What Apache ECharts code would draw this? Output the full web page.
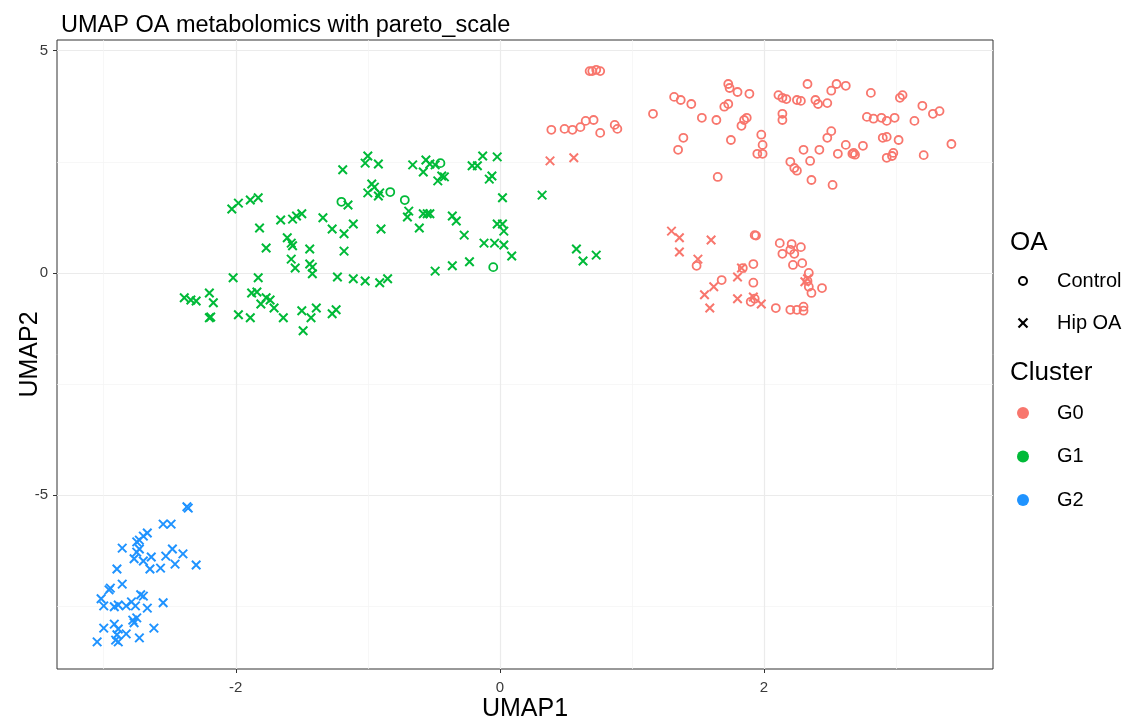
<!DOCTYPE html>
<html>
<head>
<meta charset="utf-8">
<title>UMAP OA metabolomics</title>
<script src="https://cdn.jsdelivr.net/npm/echarts@6/dist/echarts.min.js"></script>
<style>
html, body { margin: 0; padding: 0; background: #fff; }
#chart { width: 1124px; height: 720px; }
</style>
</head>
<body>
<div id="chart"></div>
<script>
// points, [UMAP1, UMAP2]
var g0Control = [
    [0.68, 4.54], [0.70, 4.54], [0.73, 4.57], [0.76, 4.54],
    [0.39, 3.22], [0.49, 3.24], [0.55, 3.22], [0.61, 3.28], [0.65, 3.42], [0.71, 3.44],
    [0.76, 3.15], [0.87, 3.33], [0.89, 3.24], [1.16, 3.58], [1.32, 3.96], [1.37, 3.89],
    [1.45, 3.80], [1.53, 3.49], [1.39, 3.04], [1.35, 2.77], [1.64, 3.44], [1.65, 2.16],
    [1.73, 4.25], [1.74, 4.16], [1.80, 4.07], [1.89, 4.03], [1.70, 3.74], [1.73, 3.80],
    [1.83, 3.31], [1.85, 3.44], [1.87, 3.49], [1.75, 2.99], [1.95, 2.68], [1.98, 3.11],
    [1.99, 2.88], [1.99, 2.68], [2.33, 4.25], [2.11, 4.00], [2.14, 3.94], [2.17, 3.91],
    [2.25, 3.89], [2.28, 3.87], [2.39, 3.89], [2.41, 3.80], [2.48, 3.82], [2.51, 4.10],
    [2.55, 4.25], [2.62, 4.21], [2.14, 3.58], [2.14, 3.44], [2.51, 3.19], [2.48, 3.04],
    [2.30, 2.77], [2.42, 2.77], [2.20, 2.50], [2.23, 2.36], [2.25, 2.30], [2.35, 2.52],
    [2.36, 2.09], [2.52, 1.98], [2.56, 2.68], [2.62, 2.88], [2.67, 2.68], [2.68, 2.70],
    [2.69, 2.66], [2.75, 2.86], [2.81, 4.05], [2.78, 3.51], [2.83, 3.47], [2.89, 3.49],
    [2.93, 3.42], [2.99, 3.49], [3.03, 3.94], [3.05, 4.00], [2.90, 3.04], [2.93, 3.06],
    [3.02, 2.99], [2.93, 2.59], [2.97, 2.63], [2.98, 2.70], [3.14, 3.42], [3.20, 3.76],
    [3.28, 3.58], [3.33, 3.64], [3.21, 2.65], [3.42, 2.90],
    [1.93, 0.85], [1.94, 0.84], [1.49, 0.16], [1.84, 0.11], [1.92, 0.20], [1.68, -0.16],
    [1.92, -0.22], [1.90, -0.65], [1.93, -0.58], [2.09, -0.79], [2.20, -0.83], [2.25, -0.83],
    [2.30, -0.76], [2.30, -0.85], [2.12, 0.67], [2.21, 0.65], [2.28, 0.58], [2.14, 0.43],
    [2.20, 0.52], [2.23, 0.43], [2.22, 0.18], [2.29, 0.22], [2.34, 0.00], [2.33, -0.18],
    [2.34, -0.31], [2.36, -0.45], [2.44, -0.34]
];
var g0HipOA = [
    [0.38, 2.52], [0.56, 2.59], [1.30, 0.94], [1.36, 0.79], [1.36, 0.47], [1.60, 0.74],
    [1.50, 0.31], [1.80, -0.09], [1.83, 0.11], [1.62, -0.31], [1.55, -0.49], [1.59, -0.79],
    [1.80, -0.58], [1.92, -0.54], [1.98, -0.70], [2.31, -0.20], [2.33, -0.13]
];
var g1Control = [
    [-0.45, 2.47], [-0.83, 1.82], [-1.20, 1.60], [-0.72, 1.64], [-0.05, 0.13]
];
var g1HipOA = [
    [0.32, 1.75], [-1.00, 2.63], [-1.02, 2.47], [-0.92, 2.45], [-1.19, 2.32], [-0.97, 2.00],
    [-1.00, 1.80], [-0.95, 1.93], [-0.91, 1.80], [-0.92, 1.73], [-1.15, 1.53], [-2.03, 1.44],
    [-1.98, 1.57], [-1.89, 1.64], [-1.83, 1.69], [-1.66, 1.19], [-1.57, 1.21], [-1.54, 1.28],
    [-1.50, 1.33], [-1.34, 1.24], [-1.27, 0.99], [-1.18, 0.88], [-1.11, 1.10], [-0.90, 0.99],
    [-1.82, 1.01], [-1.77, 0.56], [-1.61, 0.79], [-1.58, 0.67], [-1.57, 0.61], [-1.44, 0.54],
    [-1.18, 0.49], [-1.58, 0.31], [-1.55, 0.11], [-1.44, 0.20], [-1.42, 0.13], [-1.42, -0.02],
    [-2.02, -0.11], [-1.83, -0.11], [-1.23, -0.09], [-1.11, -0.13], [-1.02, -0.18], [-0.91, -0.22],
    [-0.85, -0.13], [-2.39, -0.56], [-2.34, -0.61], [-2.30, -0.63], [-2.20, -0.45], [-2.17, -0.67],
    [-2.20, -1.01], [-2.19, -0.99], [-1.98, -0.94], [-1.89, -1.01], [-1.88, -0.45], [-1.84, -0.43],
    [-1.81, -0.70], [-1.77, -0.56], [-1.74, -0.61], [-1.71, -0.79], [-1.64, -1.01], [-1.50, -0.85],
    [-1.43, -1.01], [-1.39, -0.79], [-1.49, -1.30], [-1.27, -0.92], [-1.24, -0.83],
    [-0.66, 2.43], [-0.56, 2.54], [-0.58, 2.27], [-0.53, 2.45], [-0.49, 2.43], [-0.47, 2.07],
    [-0.44, 2.18], [-0.42, 2.16], [-0.21, 2.41], [-0.17, 2.41], [-0.13, 2.63], [-0.02, 2.61],
    [-0.06, 2.18], [-0.08, 2.11], [-0.69, 1.39], [-0.70, 1.26], [-0.58, 1.33], [-0.55, 1.33],
    [-0.53, 1.33], [-0.61, 1.01], [-0.36, 1.28], [-0.33, 1.17], [-0.27, 0.85], [-0.12, 0.67],
    [-0.04, 0.67], [-0.02, 1.10], [0.02, 1.10], [0.03, 0.94], [0.03, 0.63], [0.09, 0.38],
    [0.02, 1.69], [-0.23, 0.25], [-0.36, 0.16], [-0.49, 0.04], [0.58, 0.54], [0.63, 0.27],
    [0.73, 0.40]
];
var g2HipOA = [
    [-2.37, -5.26], [-2.36, -5.29], [-2.55, -5.65], [-2.49, -5.65], [-2.67, -5.85], [-2.70, -5.92],
    [-2.75, -6.05], [-2.73, -6.01], [-2.86, -6.19], [-2.75, -6.28], [-2.73, -6.21], [-2.77, -6.43],
    [-2.70, -6.48], [-2.64, -6.39], [-2.65, -6.66], [-2.57, -6.64], [-2.53, -6.37], [-2.48, -6.21],
    [-2.46, -6.55], [-2.40, -6.32], [-2.30, -6.57], [-2.90, -6.66], [-2.86, -7.00], [-2.95, -7.09],
    [-2.96, -7.13], [-3.02, -7.33], [-3.00, -7.49], [-2.92, -7.51], [-2.89, -7.47], [-2.83, -7.49],
    [-2.79, -7.40], [-2.76, -7.49], [-2.72, -7.24], [-2.70, -7.27], [-2.67, -7.54], [-2.55, -7.42],
    [-2.78, -7.81], [-2.75, -7.76], [-2.77, -7.87], [-3.00, -7.99], [-2.92, -7.90], [-2.89, -8.01],
    [-2.90, -8.14], [-2.83, -8.12], [-2.62, -7.99], [-2.73, -8.21], [-3.05, -8.30], [-2.91, -8.26],
    [-2.89, -8.30]
];

var xTicks = [-2, 0, 2];
var xMinor = [-3, -1, 1, 3];
var yTicks = [-5, 0, 5];
var yMinor = [-7.5, -2.5, 2.5];
var xRange = [-3.354, 3.735];
var yRange = [-8.91, 5.24];

var oaLevels = ['Control', 'Hip OA'];
var clusters = ['G0', 'G1', 'G2'];
var clusterColors = { G0: '#F8766D', G1: '#00BA38', G2: '#1F93FF' };
var font = '"Liberation Sans", Arial, Helvetica, sans-serif';

var crossPath = 'path://M0,0L10,10M10,0L0,10';

function pointSeries(name, data, color, shape) {
    var isCross = shape === 'cross';
    return {
        name: name,
        type: 'scatter',
        xAxisIndex: 1,
        yAxisIndex: 1,
        data: data,
        symbol: isCross ? crossPath : 'circle',
        symbolSize: isCross ? 8.5 : 8,
        itemStyle: {
            color: 'rgba(0,0,0,0)',
            borderColor: color,
            borderWidth: isCross ? 2 : 1.8,
            opacity: 1
        },
        emphasis: { disabled: true }
    };
}

function axisPair(dim, range, ticks, minor, title) {
    var isX = dim === 'x';
    // minor grid lines only
    var minorAxis = {
        type: 'value',
        min: range[0],
        max: range[1],
        axisLine: { show: false, onZero: false },
        axisTick: { show: false, customValues: minor },
        axisLabel: { show: false, customValues: minor },
        splitLine: { show: true, lineStyle: { color: '#F3F3F3', width: 0.7 } }
    };
    var main = {
        type: 'value',
        min: range[0],
        max: range[1],
        position: isX ? 'bottom' : 'left',
        name: title,
        nameLocation: 'middle',
        nameGap: isX ? 28 : 14,
        nameMoveOverlap: false,
        nameTextStyle: { fontSize: 25, color: '#000', fontFamily: font },
        axisLine: { show: false, onZero: false },
        axisTick: { show: true, length: 4, customValues: ticks, lineStyle: { color: '#333', width: 1 } },
        axisLabel: { customValues: ticks, fontSize: 15, color: '#3A3A3A', fontFamily: font, margin: isX ? 11 : 9 },
        splitLine: { show: true, lineStyle: { color: '#EBEBEB', width: 1.2 } }
    };
    return [minorAxis, main];
}

// legend drawn by hand so it sits where ggplot put it
function legendGraphics() {
    var items = [];
    var iconX = 1023, textX = 1057;
    var titleStyle = { fontSize: 26, fill: '#000', fontFamily: font, verticalAlign: 'middle' };
    var labelStyle = { fontSize: 20, fill: '#000', fontFamily: font, verticalAlign: 'middle' };
    items.push({ type: 'text', x: 1010, y: 243, style: Object.assign({ text: 'OA' }, titleStyle) });
    var oaY = [281, 323];
    items.push({ type: 'circle', shape: { cx: iconX, cy: oaY[0], r: 4 },
                 style: { fill: 'none', stroke: '#000', lineWidth: 2 } });
    items.push({ type: 'polyline', shape: { points: [[iconX - 4.5, oaY[1] - 4.5], [iconX + 4.5, oaY[1] + 4.5]] },
                 style: { stroke: '#000', lineWidth: 2.2 } });
    items.push({ type: 'polyline', shape: { points: [[iconX + 4.5, oaY[1] - 4.5], [iconX - 4.5, oaY[1] + 4.5]] },
                 style: { stroke: '#000', lineWidth: 2.2 } });
    oaLevels.forEach(function (name, i) {
        items.push({ type: 'text', x: textX, y: oaY[i], style: Object.assign({ text: name }, labelStyle) });
    });
    items.push({ type: 'text', x: 1010, y: 373, style: Object.assign({ text: 'Cluster' }, titleStyle) });
    clusters.forEach(function (name, i) {
        var y = 413 + i * 43.5;
        items.push({ type: 'circle', shape: { cx: iconX, cy: y, r: 6 },
                     style: { fill: clusterColors[name] } });
        items.push({ type: 'text', x: textX, y: y, style: Object.assign({ text: name }, labelStyle) });
    });
    return items;
}

var chart = echarts.init(document.getElementById('chart'));

var option = {
    backgroundColor: '#fff',
    animation: false,
    textStyle: { fontFamily: font },
    title: {
        text: 'UMAP OA metabolomics with pareto_scale', left: 56, top: 9,
        textStyle: { fontSize: 23.5, fontWeight: 'normal', color: '#000', fontFamily: font }
    },
    grid: {
        left: 57, right: 131, top: 40, bottom: 51,
        outerBoundsMode: 'none',
        containLabel: false,
        show: true, borderColor: '#333', borderWidth: 1, backgroundColor: '#fff'
    },
    xAxis: axisPair('x', xRange, xTicks, xMinor, 'UMAP1'),
    yAxis: axisPair('y', yRange, yTicks, yMinor, 'UMAP2'),
    graphic: legendGraphics(),
    series: [
        pointSeries('G0 Control', g0Control, clusterColors.G0, 'circle'),
        pointSeries('G0 Hip OA', g0HipOA, clusterColors.G0, 'cross'),
        pointSeries('G1 Control', g1Control, clusterColors.G1, 'circle'),
        pointSeries('G1 Hip OA', g1HipOA, clusterColors.G1, 'cross'),
        pointSeries('G2 Hip OA', g2HipOA, clusterColors.G2, 'cross')
    ]
};

chart.setOption(option);
</script>
</body>
</html>
